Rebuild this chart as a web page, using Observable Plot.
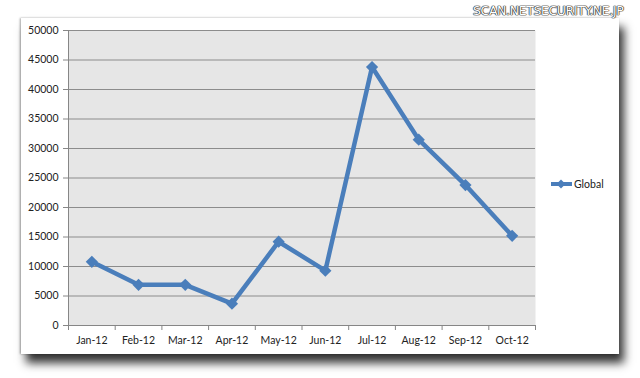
<!DOCTYPE html>
<html><head><meta charset="utf-8">
<script src="https://cdn.jsdelivr.net/npm/d3@7"></script>
<script src="https://cdn.jsdelivr.net/npm/@observablehq/plot@0.6"></script>
<style>
html,body{margin:0;padding:0;background:#fff;width:640px;height:378px;overflow:hidden;position:relative;font-family:Lato,"Liberation Sans",sans-serif;}
#box{position:absolute;left:21px;top:18px;width:598px;height:336px;background:#fff;box-shadow:5px 9px 9px rgba(0,0,0,0.8), -1px 0 2px rgba(0,0,0,0.35);}
#chart{position:absolute;left:0;top:0;}
#legend{position:absolute;left:550px;top:178px;font-size:10.5px;color:#222;display:flex;align-items:center;}
#wm{position:absolute;left:473px;top:4px;font-family:"DejaVu Sans",sans-serif;font-size:12px;color:#fff;letter-spacing:-0.35px;transform:scaleX(1.04);transform-origin:left;text-shadow:0 0 1px #222,0 0 1px #222,0 0 1px #222,0 0 1px #222;}
</style></head>
<body>
<div id="box"></div>
<div id="chart"></div>
<div id="legend"><svg width="24" height="12"><line x1="1" y1="6" x2="22" y2="6" stroke="#4a7ebb" stroke-width="4"/><path d="M11,1.5 L15.5,6 L11,10.5 L6.5,6Z" fill="#4a7ebb"/></svg><span>Global</span></div>
<div id="wm">SCAN.NETSECURITY.NE.JP</div>
<script>
const months = ["Jan-12","Feb-12","Mar-12","Apr-12","May-12","Jun-12","Jul-12","Aug-12","Sep-12","Oct-12"];
const values = [10800, 6900, 6900, 3700, 14200, 9300, 43800, 31500, 23800, 15200];
const yTicks = [0, 5000, 10000, 15000, 20000, 25000, 30000, 35000, 40000, 45000, 50000];
const seriesName = "Global";

const data = months.map((m, i) => ({pos: i + 0.5, month: m, value: values[i]}));
const bounds = d3.range(0, months.length + 1);
const axisGray = "#868686";

const plot = Plot.plot({
  width: 640, height: 378,
  marginLeft: 68, marginRight: 105, marginTop: 30, marginBottom: 53,
  style: {fontFamily: "Lato, 'Liberation Sans', sans-serif", fontSize: "10.5px", color: "#222", background: "transparent"},
  x: {type: "linear", domain: [0, months.length]},
  y: {domain: [0, 50000]},
  marks: [
    Plot.frame({fill: "#e6e6e6", stroke: "none"}),
    Plot.gridY(yTicks, {stroke: "#8c8c8c", strokeOpacity: 1}),
    Plot.ruleX([0], {stroke: axisGray}),
    Plot.ruleY([0], {stroke: axisGray}),
    Plot.axisY(yTicks, {tickSize: 5, tickPadding: 5, tickFormat: d => String(d), stroke: axisGray, fill: "#222", label: null}),
    Plot.axisX(bounds, {tickSize: 5, tickFormat: () => "", stroke: axisGray, label: null}),
    Plot.axisX(data.map(d => d.pos), {tickSize: 0, tickPadding: 11, tickFormat: d => months[Math.floor(d)], fill: "#222", label: null}),
    Plot.line(data, {x: "pos", y: "value", stroke: "#4a7ebb", strokeWidth: 4.5, strokeLinejoin: "round"}),
    Plot.dot(data, {x: "pos", y: "value", symbol: "diamond2", r: 5.5, fill: "#4a7ebb", stroke: "none"})
  ]
});
document.getElementById("chart").appendChild(plot);
</script>
</body></html>
